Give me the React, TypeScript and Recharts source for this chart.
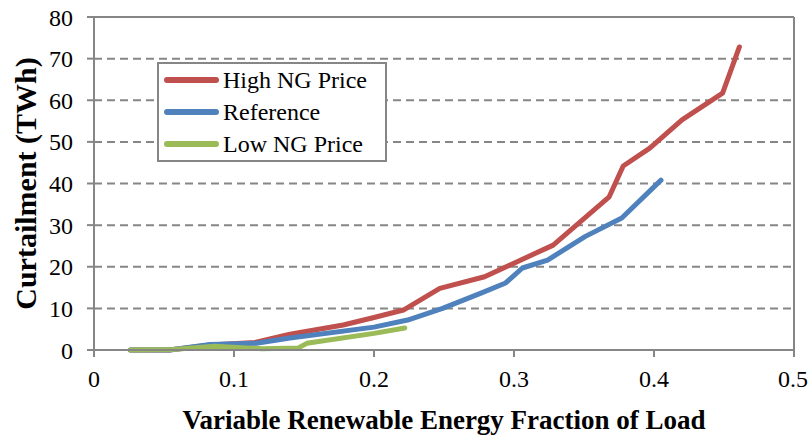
import { LineChart, Line, XAxis, YAxis, CartesianGrid, Legend, ReferenceLine } from 'recharts'

const highX = [0.026, 0.054, 0.083, 0.115, 0.14, 0.178, 0.2, 0.221, 0.247, 0.279, 0.328, 0.368, 0.378, 0.397, 0.42, 0.449, 0.461]
const highY = [0, 0, 1.2, 1.8, 3.8, 6, 7.8, 9.6, 14.8, 17.6, 25.2, 36.8, 44.2, 48.5, 55.3, 61.7, 72.8]

const refX = [0.026, 0.054, 0.083, 0.116, 0.14, 0.2, 0.224, 0.249, 0.276, 0.294, 0.306, 0.324, 0.351, 0.377, 0.405]
const refY = [0, 0, 1.3, 1.6, 2.9, 5.5, 7.2, 10, 13.6, 16.1, 19.7, 21.6, 27.3, 31.7, 40.8]

const lowX = [0.026, 0.056, 0.086, 0.12, 0.146, 0.152, 0.2, 0.222]
const lowY = [0, 0.1, 0.9, 0.3, 0.5, 1.6, 4.0, 5.3]

const xTicks = [0, 0.1, 0.2, 0.3, 0.4, 0.5]
const yTicks = [0, 10, 20, 30, 40, 50, 60, 70, 80]

const toPoints = (xs: number[], ys: number[]) => xs.map((x, i) => ({ x, y: ys[i] }))

const series = [
  { name: 'High NG Price', color: '#C0504D', data: toPoints(highX, highY) },
  { name: 'Reference', color: '#4F81BD', data: toPoints(refX, refY) },
  { name: 'Low NG Price', color: '#9BBB59', data: toPoints(lowX, lowY) },
]

const font = 'Liberation Serif, Times New Roman, DejaVu Serif, serif'
const gray = '#868686'

function LegendBox() {
  return (
    <div
      style={{
        border: `2px solid ${gray}`,
        background: '#fff',
        width: 226,
        height: 96,
        boxSizing: 'content-box',
        fontFamily: font,
        fontSize: 24,
        color: '#000',
      }}
    >
      {series.map((s) => (
        <div key={s.name} style={{ display: 'flex', alignItems: 'center', height: 32 }}>
          <div
            style={{
              width: 55,
              height: 6,
              borderRadius: 3,
              background: s.color,
              marginLeft: 5,
              marginRight: 4,
            }}
          />
          <span style={{ lineHeight: '32px', whiteSpace: 'nowrap' }}>{s.name}</span>
        </div>
      ))}
    </div>
  )
}

const YTitle = (props: any) => {
  const vb = props.viewBox
  const cx = vb.x + 25
  const cy = vb.y + vb.height / 2
  return (
    <text
      x={cx}
      y={cy}
      transform={`rotate(-90 ${cx} ${cy})`}
      textAnchor="middle"
      dominantBaseline="central"
      style={{ fontFamily: font, fontWeight: 'bold', fontSize: 30 }}
      fill="#000"
    >
      Curtailment (TWh)
    </text>
  )
}

const XTitle = (props: any) => {
  const vb = props.viewBox
  const cx = vb.x + vb.width / 2
  const y = vb.y + 79
  return (
    <text x={cx} y={y} textAnchor="middle" style={{ fontFamily: font, fontWeight: 'bold', fontSize: 27 }} fill="#000">
      Variable Renewable Energy Fraction of Load
    </text>
  )
}

const tickStyle = { fill: '#000', fontSize: 24, fontFamily: font, style: { fontFamily: font } }

export default function App() {
  return (
    <div style={{ position: 'absolute', left: 0, top: 0, background: '#fff', fontFamily: font }}>
      <LineChart width={808} height={436} margin={{ top: 17, right: 14, bottom: 0, left: 0 }} style={{ fontFamily: font }}>
        <CartesianGrid
          vertical={false}
          horizontalValues={[10, 20, 30, 40, 50, 60, 70]}
          stroke={gray}
          strokeWidth={2}
          strokeDasharray="8 5"
        />
        <ReferenceLine y={80} stroke={gray} strokeWidth={2} />
        <ReferenceLine x={0.5} stroke={gray} strokeWidth={2} />
        <XAxis
          type="number"
          dataKey="x"
          domain={[0, 0.5]}
          ticks={xTicks}
          height={86}
          tickSize={7}
          tickMargin={13}
          axisLine={{ stroke: gray, strokeWidth: 2 }}
          tickLine={{ stroke: gray, strokeWidth: 2 }}
          tick={tickStyle}
          label={{ content: XTitle }}
        />
        <YAxis
          type="number"
          dataKey="y"
          domain={[0, 80]}
          ticks={yTicks}
          width={94}
          tickSize={7}
          tickMargin={14}
          axisLine={{ stroke: gray, strokeWidth: 2 }}
          tickLine={{ stroke: gray, strokeWidth: 2 }}
          tick={tickStyle}
          label={{ content: YTitle }}
        />
        <Legend
          layout="horizontal"
          verticalAlign="middle"
          align="center"
          content={() => <LegendBox />}
          wrapperStyle={{ position: 'absolute', left: 157, top: 62, width: 'auto', height: 'auto' }}
        />
        {series.map((s) => (
          <Line
            key={s.name}
            data={s.data}
            dataKey="y"
            name={s.name}
            type="linear"
            stroke={s.color}
            strokeWidth={5}
            strokeLinecap="round"
            strokeLinejoin="round"
            dot={false}
            activeDot={false}
            isAnimationActive={false}
          />
        ))}
      </LineChart>
    </div>
  )
}
